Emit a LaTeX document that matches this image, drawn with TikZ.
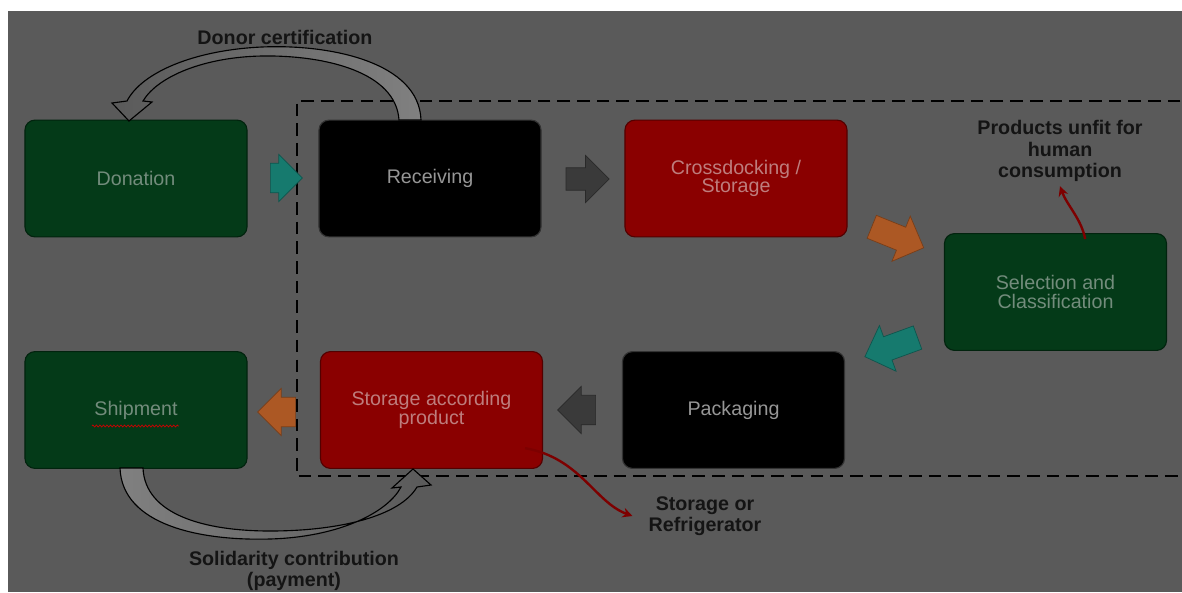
\documentclass[tikz,border=0pt]{standalone}
\usepackage{fontspec}
\setmainfont{Liberation Sans}
\usetikzlibrary{shapes.arrows,arrows.meta,decorations.pathmorphing}

\definecolor{bggray}{RGB}{90,90,90}
\definecolor{boxgreen}{RGB}{4,58,24}
\definecolor{boxred}{RGB}{138,0,0}
\definecolor{txtgreen}{RGB}{115,140,124}
\definecolor{txtred}{RGB}{190,125,125}
\definecolor{txtblack}{RGB}{150,150,150}
\definecolor{arrteal}{RGB}{22,122,110}
\definecolor{arrorange}{RGB}{172,88,36}
\definecolor{arrgray}{RGB}{58,58,58}
\definecolor{wavered}{RGB}{125,0,0}
\definecolor{bandgray}{RGB}{128,128,128}

\tikzset{
  procbox/.style={rounded corners=0.25cm, minimum width=5.55cm, minimum height=2.92cm,
    line width=0.8pt, inner sep=0pt, align=center,
    font=\fontsize{14}{13}\selectfont},
  greenbox/.style={procbox, fill=boxgreen, draw=boxgreen!60!black, text=txtgreen},
  redbox/.style={procbox, fill=boxred, draw=boxred!60!black, text=txtred},
  blackbox/.style={procbox, fill=black, draw=black!80, text=txtblack},
  blockarrow/.style={single arrow, inner xsep=0pt, inner ysep=0.36cm,
    single arrow head extend=0.22cm, line width=0.5pt},
  note/.style={align=center, text=black!92, font=\fontsize{14}{15}\selectfont\bfseries},
  wavy/.style={draw=wavered, line width=1.7pt, -{Stealth[length=7pt,width=7pt]}},
  band/.style={draw=black, line width=0.8pt}
}

\begin{document}
\begin{tikzpicture}[x=0.025cm, y=-0.025cm]
  \clip (0,0) rectangle (1182,592);

  % Page: white rim, gray backdrop
  \fill[white] (0,0) rectangle (1182,592);
  \fill[bggray] (8,11) rectangle (1182,592);

  % Dashed frame round the warehouse steps
  \draw[line width=1.6pt, dash pattern=on 9pt off 5pt] (1200,101) -- (297,101) -- (297,476) -- (1200,476);

  % Process boxes
  \node[greenbox] (don) at (136,178.5) {Donation};
  \node[blackbox] (rec) at (430,178.5) {Receiving};
  \node[redbox]   (cro) at (736,178.5) {Crossdocking /\\Storage};
  \node[greenbox] (sel) at (1055.5,292) {Selection and\\Classification};
  \node[greenbox] (shp) at (136,410) {Shipment};
  \node[redbox]   (sap) at (431.5,410) {Storage according\\product};
  \node[blackbox] (pkg) at (733.5,410) {Packaging};

  % Spell-check squiggle under Shipment
  \draw[red!80!black, line width=0.5pt, decorate, decoration={zigzag, segment length=2.5pt, amplitude=0.7pt}]
    (92,426) -- (179,426);

  % Block arrows between the steps
  \node[blockarrow, fill=arrteal, draw=arrteal!70!black, minimum height=0.8cm] (a1) at (279,178) {};
  \node[blockarrow, fill=arrgray, draw=arrgray!70!black, minimum height=1.075cm, inner ysep=0.27cm, single arrow head extend=0.31cm] (a2) at (582,179) {};
  \node[blockarrow, fill=arrorange, draw=arrorange!70!black, minimum height=1.4cm, inner ysep=0.3cm, single arrow head extend=0.3cm, rotate=-22] (a3) at (892,235) {};
  \node[blockarrow, fill=arrteal, draw=arrteal!70!black, minimum height=1.4cm, inner ysep=0.3cm, single arrow head extend=0.3cm, rotate=200] (a4) at (897,345) {};
  \node[blockarrow, fill=arrgray, draw=arrgray!70!black, minimum height=0.95cm, rotate=180] (a5) at (584,410) {};
  \node[blockarrow, fill=arrorange, draw=arrorange!70!black, minimum height=0.95cm, rotate=180] (a6) at (284,412) {};

  % Curved arrow: donor certification
  \path[band, left color=bggray, right color=bandgray]
    (421,120) .. controls (419,62) and (330,44) .. (262,47)
    .. controls (195,50) and (142,72) .. (127,101)
    -- (112,103) -- (129,121) -- (152,102) -- (143,101)
    .. controls (158,76) and (205,57) .. (262,56)
    .. controls (325,55) and (396,72) .. (399,120) -- cycle;

  % Curved arrow: solidarity contribution
  \path[band, left color=bandgray, right color=bggray]
    (120,468) .. controls (122,525) and (200,541) .. (270,539)
    .. controls (340,537) and (388,512) .. (401,487)
    -- (392,488) -- (413,469) -- (431,485) -- (417,487)
    .. controls (400,516) and (340,531) .. (270,531)
    .. controls (205,531) and (145,515) .. (143,468) -- cycle;

  % Labels
  \node[note] (cert) at (285,37) {Donor certification};
  \node[note] (pay) at (294,571) {Solidarity contribution\\(payment)};
  \node[note] (unfit) at (1060,151) {Products unfit for\\human\\consumption};
  \node[note] (refr) at (705,516) {Storage or\\Refrigerator};

  % Red side exits
  \draw[wavy] ([xshift=0.74cm,yshift=-0.15cm]sel.north) .. controls +(100:0.5cm) and +(-70:0.5cm) .. (unfit.south);
  \draw[wavy] ([xshift=-0.45cm,yshift=0.52cm]sap.south east) .. controls +(-10:1.4cm) and +(160:1.0cm) .. ([xshift=-8pt]refr.west);
\end{tikzpicture}
\end{document}
